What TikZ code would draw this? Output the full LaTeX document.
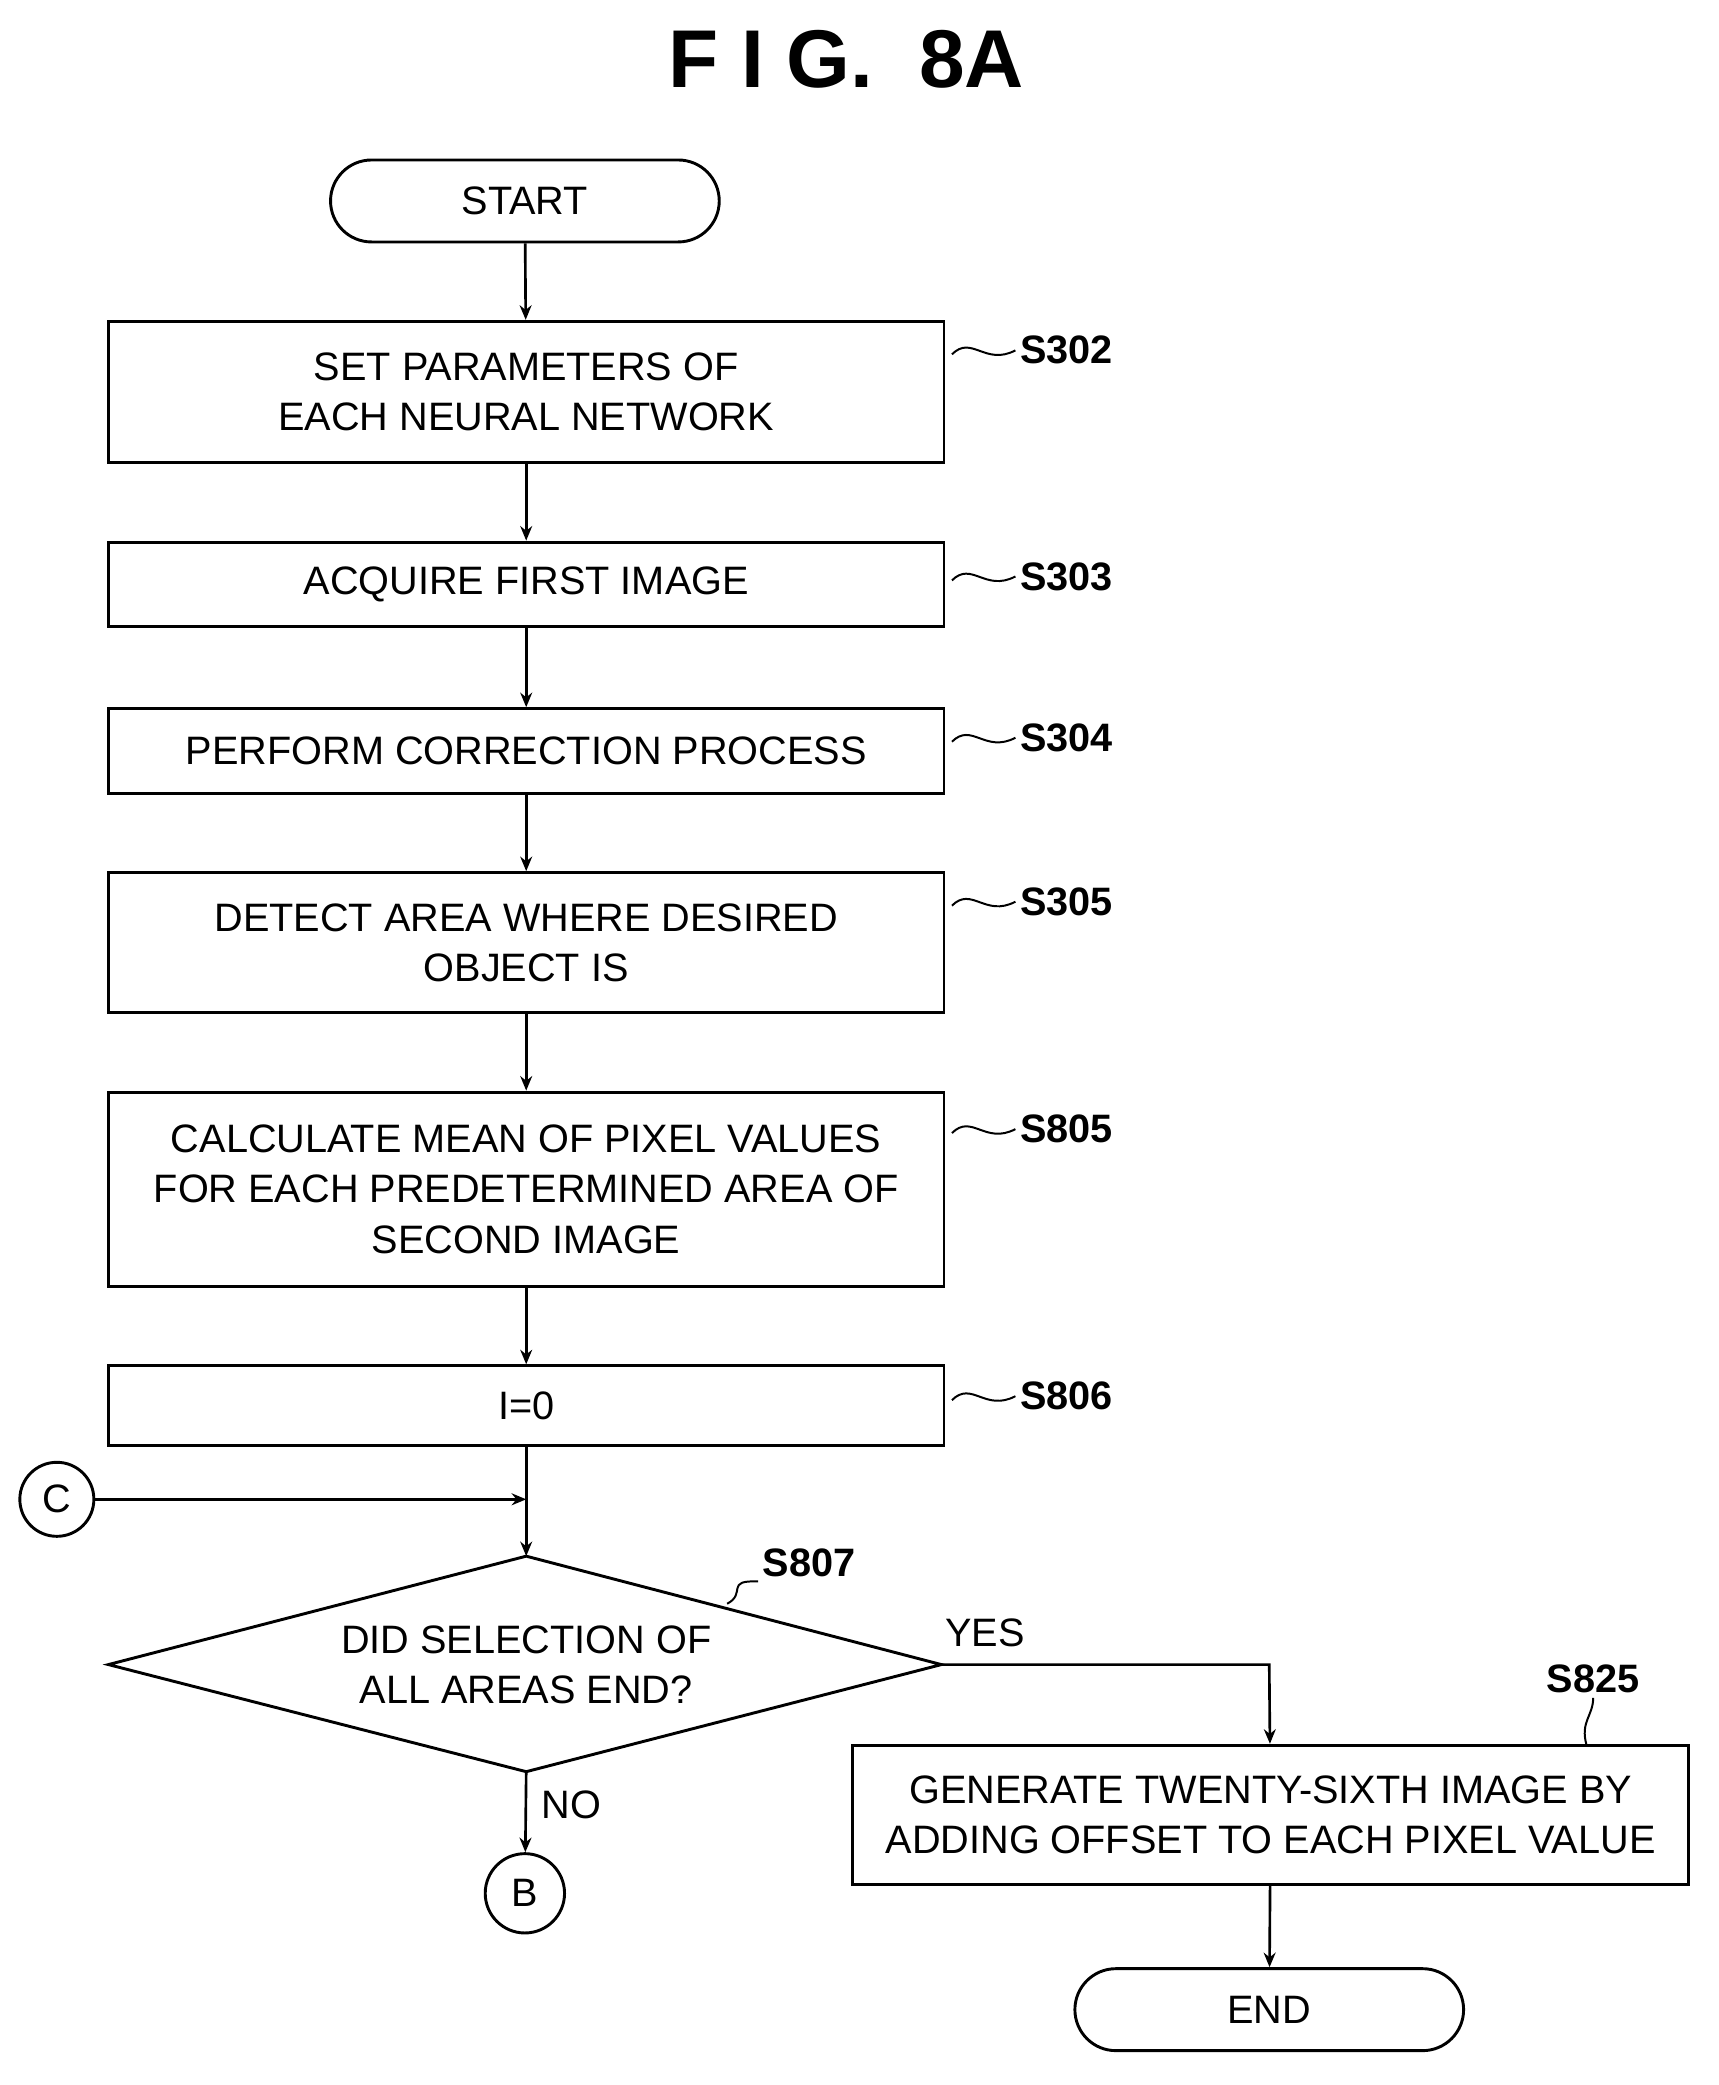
\documentclass[tikz,border=0pt]{standalone}
\usepackage{fontspec}
\setmainfont{Liberation Sans}
\usetikzlibrary{arrows.meta,shapes.geometric}
\begin{document}
\begin{tikzpicture}[x=1pt,y=-1pt,
 box/.style={draw,line width=2.2pt,minimum width=632pt,align=center,font=\fontsize{30}{38}\selectfont,inner sep=0pt},
 term/.style={draw,line width=2.2pt,rounded corners=31pt,minimum width=294pt,minimum height=62pt,font=\fontsize{30}{34}\selectfont},
 circ/.style={draw,circle,line width=2.2pt,minimum size=56pt,inner sep=0pt,font=\fontsize{30}{34}\selectfont},
 lab/.style={font=\bfseries\fontsize{30}{34}\selectfont},
 arr/.style={line width=2pt,-{Stealth[length=11pt,width=9pt]}},
 tl/.style={line width=1.5pt}]
\useasboundingbox (0,0) rectangle (1300,1577);
\node[font=\bfseries\fontsize{62}{70}\selectfont] (title) at (640,45) {F I G.\ \ 8A};
\node[term] (start) at (397,152) {START};
\node[box,minimum height=107pt] (s302) at (398,296.5) {SET PARAMETERS OF\\EACH NEURAL NETWORK};
\node[box,minimum height=64pt] (s303) at (398,442) {ACQUIRE FIRST IMAGE};
\node[box,minimum height=64pt] (s304) at (398,568) {PERFORM CORRECTION PROCESS};
\node[box,minimum height=106pt] (s305) at (398,713) {DETECT AREA WHERE DESIRED\\OBJECT IS};
\node[box,minimum height=147pt] (s805) at (398,899.5) {CALCULATE MEAN OF PIXEL VALUES\\FOR EACH PREDETERMINED AREA OF\\SECOND IMAGE};
\node[box,minimum height=60pt] (s806) at (398,1063) {I=0};
\coordinate (dt) at (398,1177);
\coordinate (db) at (398,1340);
\coordinate (dl) at (82,1259);
\coordinate (dr) at (712,1259);
\draw[line width=2.2pt] (dt) -- (dr) -- (db) -- (dl) -- cycle;
\node[align=center,font=\fontsize{30}{38}\selectfont] (d807) at (398,1259) {DID SELECTION OF\\ALL AREAS END?};
\node[circ] (c) at (43,1134) {C};
\node[circ,minimum size=60pt] (b) at (397,1432) {B};
\node[box,minimum height=105pt] (s825) at (961,1372.5) {GENERATE TWENTY-SIXTH IMAGE BY\\ADDING OFFSET TO EACH PIXEL VALUE};
\node[term] (end) at (960,1520) {END};
\coordinate (cj) at (398,1134);
\coordinate (yj) at (960,1259);
\draw[arr] (start) -- (s302);
\draw[arr] (s302) -- (s303);
\draw[arr] (s303) -- (s304);
\draw[arr] (s304) -- (s305);
\draw[arr] (s305) -- (s805);
\draw[arr] (s805) -- (s806);
\draw[arr] (s806) -- (dt);
\draw[arr] (c) -- (cj);
\draw[arr] (db) -- (b);
\draw[arr] (dr) -- (yj) -- (s825);
\draw[arr] (s825) -- (end);
\node[font=\fontsize{30}{34}\selectfont] (yes) at (745,1235) {YES};
\node[font=\fontsize{30}{34}\selectfont] (no) at (432,1365) {NO};
\foreach \n/\y/\t in {a/265/S302,b/436/S303,c/558/S304,d/682/S305,e/854/S805,f/1056/S806}{
 \node[lab,anchor=west] (l\n) at (768,\y) {\t};
 \draw[tl] (720,\y+3) .. controls (735,\y-12) and (745,\y+12) .. (l\n.west);
}
\node[lab] (l807) at (612,1182) {S807};
\draw[tl] (l807.south west) .. controls (548,1195) and (565,1205) .. (550,1213);
\node[lab] (l825) at (1205,1270) {S825};
\draw[tl] (l825.south) .. controls (1205,1298) and (1195,1302) .. (1200,1320);
\end{tikzpicture}
\end{document}
